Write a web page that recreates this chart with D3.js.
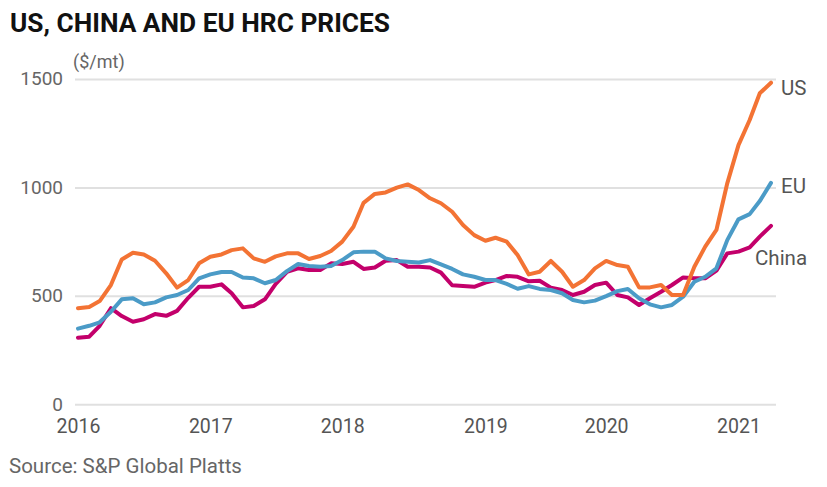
<!DOCTYPE html>
<html>
<head>
<meta charset="utf-8">
<script src="https://cdn.jsdelivr.net/npm/d3@7"></script>
<style>
  html, body { margin: 0; padding: 0; background: #fff; }
  svg { display: block; }
</style>
</head>
<body>
<svg id="chart" width="827" height="487"></svg>
<script>
// ---- Data (monthly, Jan 2016 – Apr 2021, $/mt) ----
const startMonth = "2016-01";
const seriesNames = ["US", "EU", "China"];
const usValues = [443,449,476,550,668,699,691,662,604,538,573,650,
                  680,691,711,719,673,657,682,696,696,670,684,707,
                  750,819,929,970,977,999,1014,988,950,927,888,827,
                  780,754,768,750,688,599,611,661,611,542,573,627,
                  661,642,634,539,539,550,504,504,634,727,804,1019,
                  1195,1311,1434,1483];
const euValues = [349,362,378,427,484,489,461,470,493,504,527,581,
                  599,610,610,585,581,558,573,614,647,638,634,638,
                  665,701,704,704,673,661,657,654,665,645,624,599,
                  588,573,573,555,533,545,532,527,512,481,470,478,
                  499,522,532,489,461,447,458,496,565,588,627,757,
                  853,877,937,1021];
const chinaValues = [307,312,362,443,407,381,392,416,408,431,491,542,
                     542,553,512,447,453,484,555,611,627,619,619,650,
                     647,657,624,631,662,665,634,634,631,607,549,545,
                     542,561,573,592,588,567,570,538,527,504,519,550,
                     561,504,493,458,489,519,550,585,581,581,616,696,
                     704,724,773,823];
const yTicks = [0, 500, 1000, 1500];
const xTickLabels = ["2016", "2017", "2018", "2019", "2020", "2021"];
const xTickMonths = ["2016-01", "2017-01", "2018-01", "2019-02", "2020-01", "2021-01"];
const titleText = "US, CHINA AND EU HRC PRICES";
const unitText = "($/mt)";
const sourceText = "Source: S&P Global Platts";

// ---- Build ----
const parseMonth = d3.timeParse("%Y-%m");
const t0 = parseMonth(startMonth);
const dates = usValues.map((_, i) => d3.timeMonth.offset(t0, i));
const colors = { US: "#f37334", EU: "#4b9bc7", China: "#c3006b" };
const valuesBy = { US: usValues, EU: euValues, China: chinaValues };

const svg = d3.select("#chart");
const font = "Roboto, 'Liberation Sans', sans-serif";

const x = d3.scaleTime().domain([dates[0], dates[dates.length - 1]]).range([78, 771]);
const y = d3.scaleLinear().domain([0, 1500]).range([404.3, 79]);

// Title
svg.append("text")
  .attr("x", 10).attr("y", 32)
  .attr("font-family", font).attr("font-weight", 700)
  .attr("font-size", 25).attr("fill", "#111")
  .attr("textLength", 380).attr("lengthAdjust", "spacingAndGlyphs")
  .text(titleText);

// Unit label
svg.append("text")
  .attr("x", 73).attr("y", 68)
  .attr("font-family", font).attr("font-size", 18).attr("fill", "#666")
  .text(unitText);

// Gridlines + y labels via axis
const yAxis = d3.axisLeft(y).tickValues(yTicks).tickSize(-701).tickPadding(12)
  .tickFormat(d3.format("d"));
const gy = svg.append("g").attr("transform", "translate(75,0)").call(yAxis);
gy.select(".domain").remove();
gy.selectAll(".tick line").attr("stroke", "#e0e0e0").attr("stroke-width", 2);
gy.selectAll(".tick text")
  .attr("font-family", font).attr("font-size", 19).attr("fill", "#666")
  .attr("x", -12).attr("dy", "0.3em");

// X axis labels
const xAxis = d3.axisBottom(x)
  .tickValues(xTickMonths.map(parseMonth))
  .tickFormat((d, i) => xTickLabels[i])
  .tickSize(0).tickPadding(0);
const gx = svg.append("g").attr("transform", "translate(0,433)").call(xAxis);
gx.select(".domain").remove();
gx.selectAll(".tick text")
  .attr("font-family", font).attr("font-size", 19.5).attr("fill", "#555")
  .attr("y", 0).attr("dy", 0);

// Lines
const line = d3.line().x((d, i) => x(dates[i])).y(d => y(d));
const drawOrder = ["China", "EU", "US"];
drawOrder.forEach(name => {
  svg.append("path")
    .datum(valuesBy[name])
    .attr("d", line)
    .attr("fill", "none")
    .attr("stroke", colors[name])
    .attr("stroke-width", 4)
    .attr("stroke-linejoin", "round")
    .attr("stroke-linecap", "round");
});

// Series end labels (baseline offsets from last point)
const labelOffsets = { US: [10, 12.5], EU: [10, 10], China: [-16, 39] };
seriesNames.forEach(name => {
  const v = valuesBy[name];
  const last = v[v.length - 1];
  svg.append("text")
    .attr("x", x(dates[v.length - 1]) + labelOffsets[name][0])
    .attr("y", y(last) + labelOffsets[name][1])
    .attr("font-family", font).attr("font-size", 20.5).attr("fill", "#555")
    .text(name);
});

// Source
svg.append("text")
  .attr("x", 9).attr("y", 473)
  .attr("font-family", font).attr("font-size", 20.5).attr("fill", "#666")
  .text(sourceText);
</script>
</body>
</html>
